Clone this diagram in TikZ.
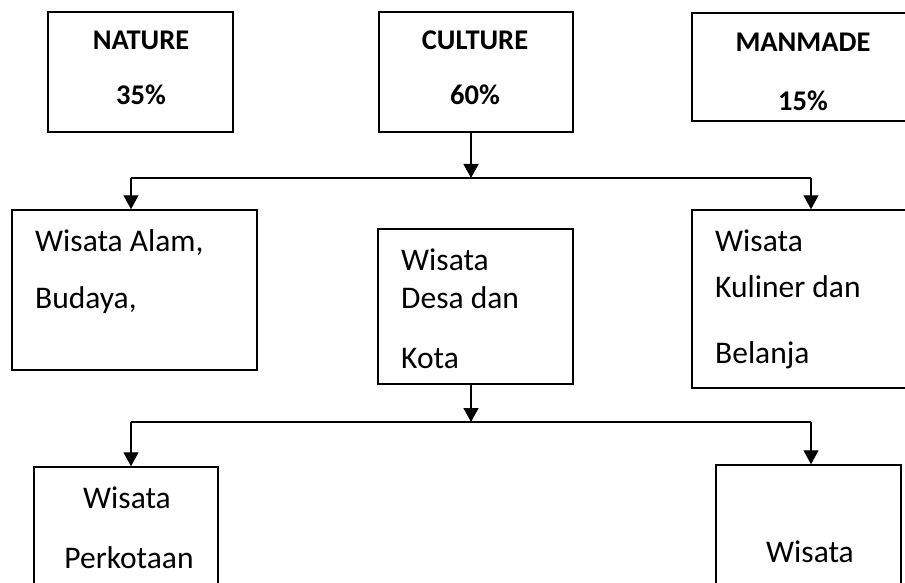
\documentclass[tikz,border=0pt]{standalone}
\usepackage{fontspec}
\setmainfont{Carlito}
\usetikzlibrary{arrows.meta}
\tikzset{
  box/.style={draw=black, line width=1.5pt, rectangle, inner sep=0pt},
  conn/.style={draw=black, line width=1.3pt},
  arr/.style={conn, -{Triangle[width=15pt,length=14pt]}},
  head/.style={font=\fontsize{28.5}{34}\selectfont\bfseries, anchor=base, inner sep=0pt},
  txt/.style={font=\fontsize{31.5}{36}\selectfont, anchor=base west, inner sep=0pt},
  ctxt/.style={font=\fontsize{31.5}{36}\selectfont, anchor=base, inner sep=0pt}
}
\begin{document}
\begin{tikzpicture}[x=1pt,y=-1pt]
\useasboundingbox (0,0) rectangle (905,583);
\clip (0,0) rectangle (905,583);
\fill[white] (0,0) rectangle (905,583);
% row 1
\node[box, minimum width=185pt, minimum height=120pt] (nature) at (140.5,72) {};
\node[box, minimum width=194pt, minimum height=120pt] (culture) at (476,72) {};
\node[box, minimum width=268pt, minimum height=108pt] (manmade) at (826,67) {};
\node[head] (t1a) at (141,50) {NATURE};
\node[head] (t1b) at (141,105) {35\%};
\node[head] (t2a) at (475,50) {CULTURE};
\node[head] (t2b) at (475,105) {60\%};
\node[head] (t3a) at (803,52) {MANMADE};
\node[head] (t3b) at (803,111) {15\%};
% row 2
\node[box, minimum width=245pt, minimum height=160pt] (alam) at (134.5,290) {};
\node[box, minimum width=195pt, minimum height=155pt] (desa) at (475.5,306.5) {};
\node[box, minimum width=268pt, minimum height=178pt] (kuliner) at (826,299) {};
\node[txt] (a1) at (35,251) {Wisata Alam,};
\node[txt] (a2) at (35,308) {Budaya,};
\node[txt] (d1) at (401,270) {Wisata};
\node[txt] (d2) at (401,308) {Desa dan};
\node[txt] (d3) at (401,368) {Kota};
\node[txt] (k1) at (715,251) {Wisata};
\node[txt] (k2) at (715,297) {Kuliner dan};
\node[txt] (k3) at (715,363) {Belanja};
% row 3
\node[box, minimum width=184pt, minimum height=183pt] (perkotaan) at (126,558.5) {};
\node[box, minimum width=185pt, minimum height=185pt] (wisata) at (808.5,557.5) {};
\node[ctxt] (p1) at (127,508) {Wisata};
\node[ctxt] (p2) at (129,568) {Perkotaan};
\node[ctxt] (w1) at (810,562) {Wisata};
% connectors level 1
\coordinate (j1) at (471,178);
\coordinate (l1) at (131,178);
\coordinate (r1) at (811,178);
\draw[arr] (culture.south -| j1) -- (j1);
\draw[conn] (l1) -- (r1);
\draw[arr] (l1) -- (l1 |- alam.north);
\draw[arr] (r1) -- (r1 |- kuliner.north);
% connectors level 2
\coordinate (j2) at (471,422);
\coordinate (l2) at (131,422);
\coordinate (r2) at (811,422);
\draw[arr] (desa.south -| j2) -- (j2);
\draw[conn] (l2) -- (r2);
\draw[arr] (l2) -- (l2 |- perkotaan.north);
\draw[arr] (r2) -- (r2 |- wisata.north);
\end{tikzpicture}
\end{document}
